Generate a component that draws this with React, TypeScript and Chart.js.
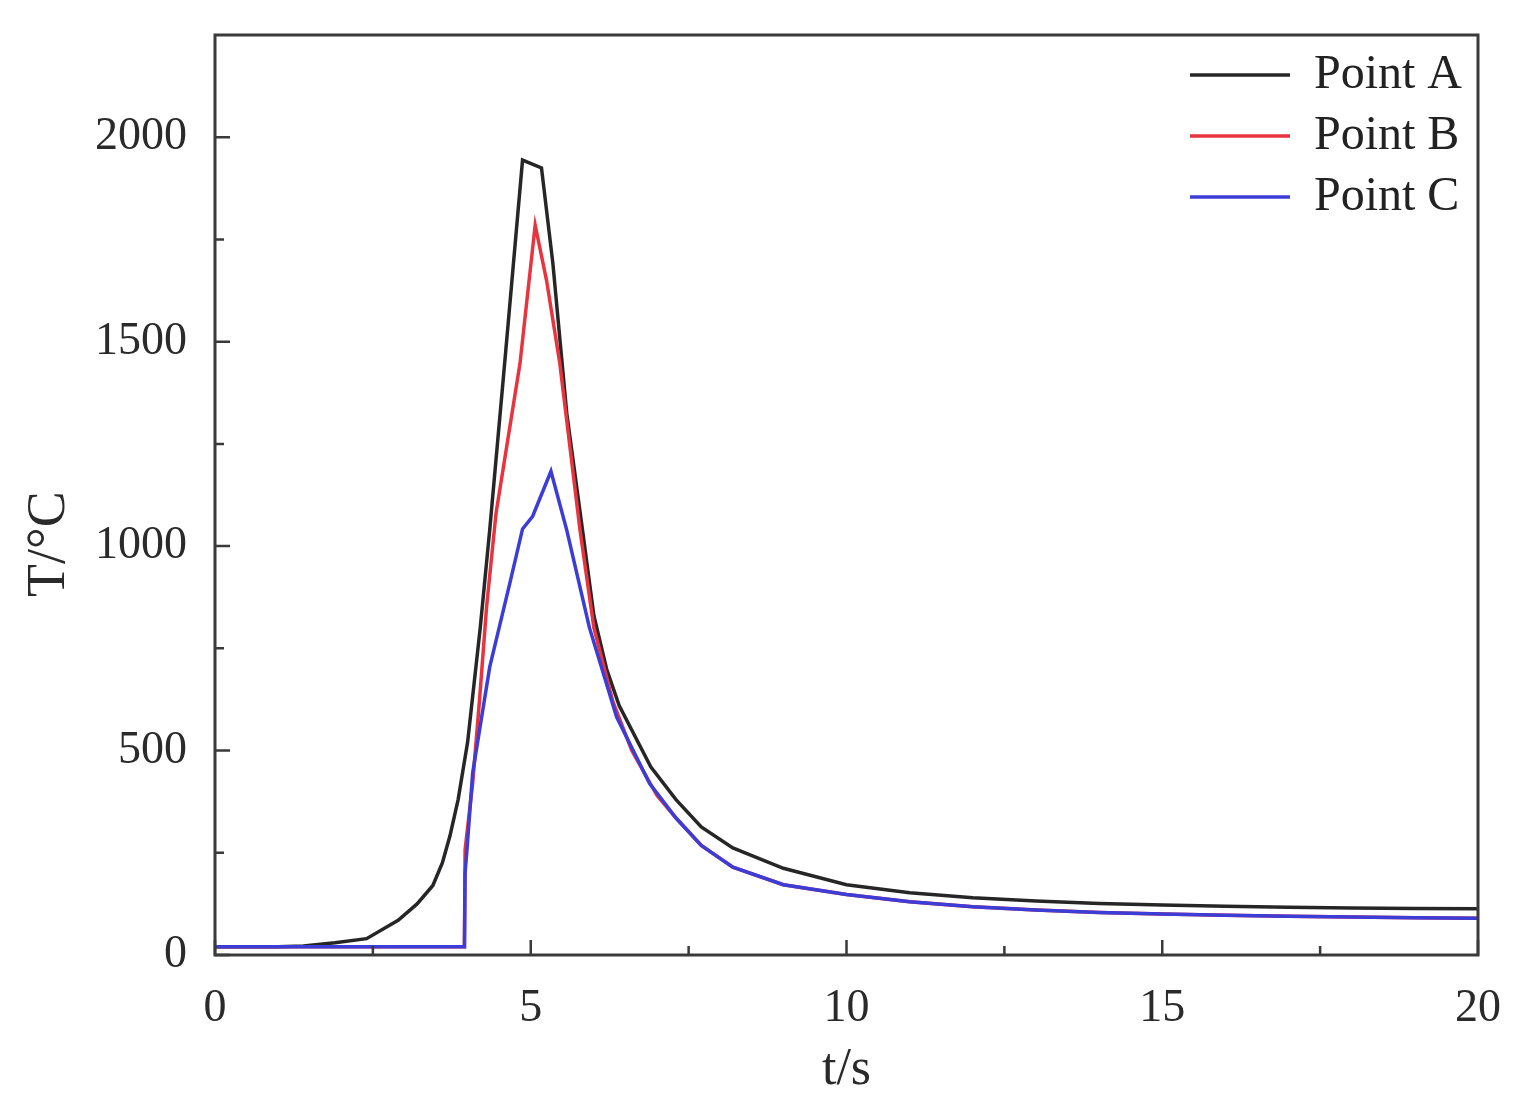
import React, { useEffect, useRef } from "react";
import { Chart, registerables } from "chart.js";

Chart.register(...registerables);

// ---- data ----
const seriesNames = ["Point A", "Point B", "Point C"];
const seriesColors = ["#262626", "#e8343f", "#3c3cd6"];

const timeA = [0, 1.0, 1.4, 1.9, 2.4, 2.9, 3.2, 3.45, 3.6, 3.72, 3.85, 4.0, 4.2, 4.35, 4.6, 4.87, 5.17, 5.35, 5.57, 5.82, 6.0, 6.2, 6.4, 6.9, 7.3, 7.7, 8.2, 9, 10, 11, 12, 13, 14, 15, 16, 17, 18, 19, 20];
const tempA = [20, 20, 22, 30, 40, 85, 125, 170, 225, 291, 380, 520, 800, 1039, 1470, 1944, 1925, 1692, 1325, 1039, 830, 700, 610, 460, 380, 313, 262, 212, 172, 152, 140, 132, 126, 122, 119, 117, 115, 114, 113];

const timeB = [0, 3.95, 3.96, 4.08, 4.19, 4.3, 4.45, 4.83, 5.07, 5.25, 5.46, 5.78, 6.0, 6.3, 6.6, 7.0, 7.3, 7.7, 8.2, 9, 10, 11, 12, 13, 14, 15, 16, 17, 18, 19, 20];
const tempB = [20, 20, 257, 420, 626, 850, 1080, 1447, 1785, 1650, 1447, 1039, 800, 620, 500, 390, 335, 268, 215, 172, 148, 130, 118, 110, 104, 100, 97, 95, 93, 91, 90];

const timeC = [0, 3.95, 3.96, 3.99, 4.08, 4.35, 4.67, 4.87, 5.03, 5.32, 5.57, 5.93, 6.36, 6.88, 7.3, 7.7, 8.2, 9, 10, 11, 12, 13, 14, 15, 16, 17, 18, 19, 20];
const tempC = [20, 20, 200, 257, 445, 704, 910, 1042, 1073, 1183, 1039, 800, 582, 420, 335, 268, 215, 172, 148, 130, 118, 110, 104, 100, 97, 95, 93, 91, 90];

const xMajorTicks = [0, 5, 10, 15, 20];
const xMinorTicks = [2.5, 7.5, 12.5, 17.5];
const yMajorTicks = [0, 500, 1000, 1500, 2000];
const yMinorTicks = [250, 750, 1250, 1750];

const xTitle = "t/s";
const yTitle = "T/°C";

const FONT = "'Liberation Serif', 'DejaVu Serif', serif";

function toPoints(ts: number[], vs: number[]) {
  return ts.map((t, i) => ({ x: t, y: vs[i] }));
}

const framePlugin = {
  id: "frameTicks",
  afterLayout(chart: any) {
    const lg = chart.legend;
    if (lg) {
      const area = chart.chartArea;
      const w = lg.width;
      lg.left = 1177;
      lg.top = 38;
      lg.right = lg.left + w;
      lg.bottom = area.bottom;
      lg.height = lg.bottom - lg.top;
    }
  },
  afterDraw(chart: any) {
    const { ctx, chartArea } = chart;
    const xs = chart.scales.x;
    const ys = chart.scales.y;
    ctx.save();
    ctx.strokeStyle = "#3a3a3a";
    ctx.lineWidth = 3;
    ctx.strokeRect(chartArea.left, chartArea.top, chartArea.right - chartArea.left, chartArea.bottom - chartArea.top);
    ctx.lineWidth = 2.5;
    ctx.beginPath();
    const majorLen = 15;
    const minorLen = 9;
    xMajorTicks.forEach((v) => {
      const px = xs.getPixelForValue(v);
      ctx.moveTo(px, chartArea.bottom);
      ctx.lineTo(px, chartArea.bottom - majorLen);
    });
    xMinorTicks.forEach((v) => {
      const px = xs.getPixelForValue(v);
      ctx.moveTo(px, chartArea.bottom);
      ctx.lineTo(px, chartArea.bottom - minorLen);
    });
    yMajorTicks.forEach((v) => {
      const py = ys.getPixelForValue(v);
      ctx.moveTo(chartArea.left, py);
      ctx.lineTo(chartArea.left + majorLen, py);
    });
    yMinorTicks.forEach((v) => {
      const py = ys.getPixelForValue(v);
      ctx.moveTo(chartArea.left, py);
      ctx.lineTo(chartArea.left + minorLen, py);
    });
    ctx.stroke();

    // y axis title
    ctx.fillStyle = "#2a2a2a";
    ctx.font = `54px ${FONT}`;
    ctx.textAlign = "center";
    ctx.textBaseline = "middle";
    ctx.translate(50, ys.getPixelForValue(1000) - 2);
    ctx.rotate(-Math.PI / 2);
    ctx.fillText(yTitle, 0, 0);
    ctx.restore();
  },
};

export default function App() {
  const canvasRef = useRef<HTMLCanvasElement | null>(null);

  useEffect(() => {
    const canvas = canvasRef.current;
    if (!canvas) return;
    const times = [timeA, timeB, timeC];
    const temps = [tempA, tempB, tempC];
    const chart = new Chart(canvas, {
      type: "line",
      data: {
        datasets: seriesNames.map((name, i) => ({
          label: name,
          data: toPoints(times[i], temps[i]),
          borderColor: seriesColors[i],
          backgroundColor: seriesColors[i],
          borderWidth: 3.5,
          pointRadius: 0,
          tension: 0,
          fill: false,
          order: 2 - i,
        })),
      },
      options: {
        responsive: false,
        animation: false,
        layout: { padding: { left: 0, top: 35, right: 52, bottom: 0 } },
        scales: {
          x: {
            type: "linear",
            min: 0,
            max: 20,
            afterFit: (s: any) => {
              s.height = 155;
              s.paddingLeft = 0;
              s.paddingRight = 0;
            },
            afterBuildTicks: (s: any) => {
              s.ticks = xMajorTicks.map((v) => ({ value: v }));
            },
            grid: { display: false },
            border: { display: false },
            ticks: {
              padding: 18,
              color: "#2a2a2a",
              font: { family: FONT, size: 46 },
              callback: (v: any) => String(v),
            },
            title: {
              display: true,
              text: xTitle,
              color: "#2a2a2a",
              font: { family: FONT, size: 52 },
              padding: { top: 0, bottom: 8 },
            },
          },
          y: {
            type: "linear",
            min: 0,
            max: 2250,
            afterFit: (s: any) => {
              s.width = 215;
              s.paddingTop = 0;
              s.paddingBottom = 0;
            },
            afterBuildTicks: (s: any) => {
              s.ticks = yMajorTicks.map((v) => ({ value: v }));
            },
            grid: { display: false },
            border: { display: false },
            ticks: {
              padding: 20,
              color: "#2a2a2a",
              font: { family: FONT, size: 46 },
              callback: (v: any) => String(v),
            },
          },
        },
        plugins: {
          legend: {
            display: true,
            position: "chartArea",
            align: "start",
            labels: {
              usePointStyle: true,
              pointStyle: "line",
              pointStyleWidth: 100,
              padding: 13,
              color: "#222",
              font: { family: FONT, size: 48 },
              sort: (a: any, b: any) => a.datasetIndex - b.datasetIndex,
            },
          },
          tooltip: { enabled: false },
        },
      } as any,
      plugins: [framePlugin],
    });
    return () => chart.destroy();
  }, []);

  return (
    <div style={{ position: "absolute", left: 0, top: 0, width: 1530, height: 1110, background: "#fff" }}>
      <canvas ref={canvasRef} width={1530} height={1110} style={{ display: "block", width: 1530, height: 1110 }} />
    </div>
  );
}
